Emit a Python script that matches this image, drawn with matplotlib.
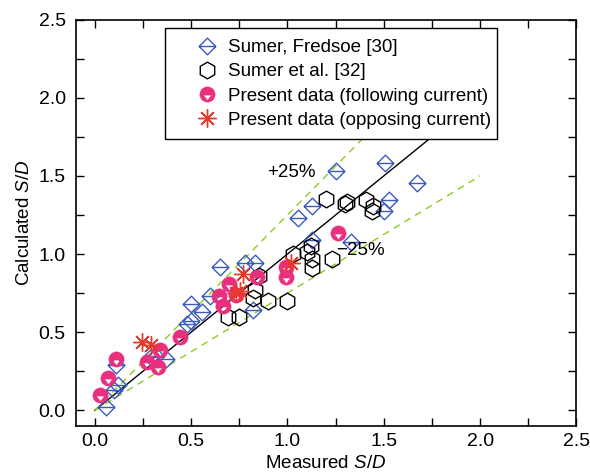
# Measured vs calculated scour depth S/D comparison plot

import matplotlib
matplotlib.use('Agg')
import matplotlib.pyplot as plt
import numpy as np
from matplotlib.path import Path
from matplotlib.patches import Rectangle

# Sumer, Fredsoe [30]
sf_x = [0.06, 0.10, 0.12, 0.11, 0.29, 0.32, 0.37, 0.48, 0.50, 0.50, 0.555, 0.60,
        0.65, 0.78, 0.83, 0.82, 1.055, 1.125, 1.125, 1.25, 1.33, 1.50, 1.525, 1.505, 1.67]
sf_y = [0.02, 0.13, 0.16, 0.29, 0.34, 0.35, 0.33, 0.55, 0.57, 0.68, 0.63, 0.73,
        0.92, 0.94, 0.94, 0.645, 1.23, 1.31, 1.09, 1.53, 1.08, 1.275, 1.345, 1.585, 1.455]

# Sumer et al. [32]
se_x = [0.69, 0.75, 0.82, 0.83, 0.85, 0.90, 1.00, 1.03, 1.10, 1.12, 1.13, 1.13,
        1.23, 1.20, 1.30, 1.31, 1.41, 1.445, 1.44]
se_y = [0.60, 0.60, 0.72, 0.77, 0.86, 0.70, 0.70, 1.00, 1.01, 1.05, 0.97, 0.91,
        0.97, 1.35, 1.32, 1.33, 1.345, 1.31, 1.275]

# Present data (following current)
pf_x = [0.025, 0.07, 0.11, 0.27, 0.33, 0.34, 0.44, 0.645, 0.665, 0.695, 0.735,
        0.84, 0.995, 0.995, 1.26]
pf_y = [0.10, 0.21, 0.33, 0.31, 0.28, 0.385, 0.47, 0.73, 0.665, 0.81, 0.735,
        0.85, 0.92, 0.855, 1.135]

# Present data (opposing current)
po_x = [0.245, 0.29, 0.735, 0.755, 0.77, 1.02]
po_y = [0.44, 0.42, 0.75, 0.765, 0.87, 0.94]

BLUE = '#3d5bbf'
PINK = '#e8307f'
RED = '#e5392a'
GREEN = '#8ccc1e'

plt.rcParams['font.family'] = ['Liberation Sans', 'DejaVu Sans']
plt.rcParams['mathtext.fontset'] = 'custom'
plt.rcParams['mathtext.rm'] = 'Liberation Sans'
plt.rcParams['mathtext.it'] = 'Liberation Sans:italic'

# diamond with a horizontal bar
diamond_bar = Path([(0, 1), (1, 0), (0, -1), (-1, 0), (0, 1), (-1, 0), (1, 0)],
                   [Path.MOVETO, Path.LINETO, Path.LINETO, Path.LINETO, Path.CLOSEPOLY,
                    Path.MOVETO, Path.LINETO])

# filled circle with a white triangle cut out at the bottom
circ = Path.unit_circle()
tri = Path([(-0.52, -0.08), (0.52, -0.08), (0, -0.78), (-0.52, -0.08)],
           [Path.MOVETO, Path.LINETO, Path.LINETO, Path.CLOSEPOLY])
circle_tri = Path.make_compound_path(circ, tri)

fig = plt.figure(figsize=(5.9, 4.72), dpi=100)
ax = fig.add_axes([0.128, 0.0975, 0.849, 0.861])

ref = np.array([0, 2.0])
ax.plot(ref, ref, color='black', lw=1.0, zorder=1)
ax.plot(np.array([0, 1.8]), 1.25 * np.array([0, 1.8]), color=GREEN, lw=1.0,
        ls=(0, (5, 4)), zorder=1)
ax.plot(np.array([0, 2.0]), 0.75 * np.array([0, 2.0]), color=GREEN, lw=1.0,
        ls=(0, (5, 4)), zorder=1)

ax.plot(sf_x, sf_y, ls='none', marker=diamond_bar, ms=12, mfc='none', mec=BLUE,
        mew=1.0, label='Sumer, Fredsoe [30]', zorder=3)
ax.plot(se_x, se_y, ls='none', marker='h', ms=12, mfc='none', mec='black',
        mew=1.0, label='Sumer et al. [32]', zorder=3)
ax.plot(pf_x, pf_y, ls='none', marker=circle_tri, ms=11, mfc=PINK, mec=PINK,
        mew=0.3, label='Present data (following current)', zorder=4)
ax.plot(po_x, po_y, ls='none', marker=(8, 2, 0), ms=13, mec=RED, mew=1.0,
        label='Present data (opposing current)', zorder=5)

ax.text(1.02, 1.52, '+25%', fontsize=13.5, ha='center', va='center')
ax.text(1.38, 1.02, '\u221225%', fontsize=13.5, ha='center', va='center')

ax.set_xlim(-0.1, 2.5)
ax.set_ylim(-0.1, 2.5)
ax.set_xticks(np.arange(0, 2.51, 0.5))
ax.set_yticks(np.arange(0, 2.51, 0.5))
ax.set_xticks(np.arange(0.25, 2.5, 0.5), minor=True)
ax.set_yticks(np.arange(0.25, 2.5, 0.5), minor=True)
ax.xaxis.set_major_formatter(matplotlib.ticker.FormatStrFormatter('%.1f'))
ax.yaxis.set_major_formatter(matplotlib.ticker.FormatStrFormatter('%.1f'))
ax.tick_params(which='both', direction='in', top=True, right=True, length=6,
               width=1.0, labelsize=14)
ax.tick_params(axis='x', pad=5)
ax.tick_params(axis='y', pad=7)
for spine in ax.spines.values():
    spine.set_linewidth(1.2)

ax.set_xlabel('Measured $\\mathit{S/D}$', fontsize=13.5, labelpad=4)
ax.set_ylabel('Calculated $\\mathit{S/D}$', fontsize=13.5, labelpad=4)

# legend frame drawn by hand so the entries can sit inside it freely
frame = Rectangle((0.178, 0.706), 0.663, 0.273, transform=ax.transAxes,
                  facecolor='white', edgecolor='black', lw=1.0, zorder=9)
ax.add_patch(frame)
leg = ax.legend(loc='upper left', bbox_to_anchor=(0.240, 0.952), fontsize=13.5,
                frameon=False, borderpad=0, labelspacing=0.38, handletextpad=0.5,
                handlelength=1.2, borderaxespad=0)
leg.set_zorder(10)

plt.savefig('out.png', dpi=100)
plt.close()
